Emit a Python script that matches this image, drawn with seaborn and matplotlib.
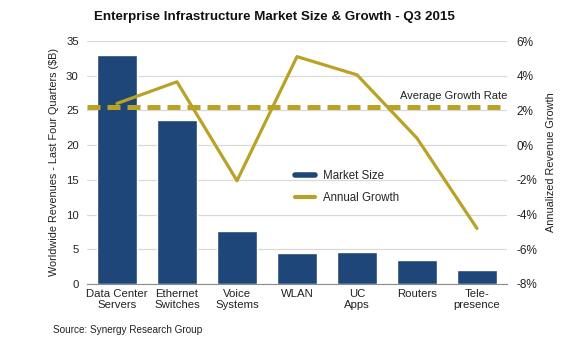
import matplotlib as mpl
mpl.use('Agg')
import matplotlib.pyplot as plt
from matplotlib.lines import Line2D
import pandas as pd
import seaborn as sns

# data
categories = ['Data Center\nServers', 'Ethernet\nSwitches', 'Voice\nSystems', 'WLAN',
              'UC\nApps', 'Routers', 'Tele-\npresence']
market_size = [33.0, 23.6, 7.6, 4.5, 4.6, 3.4, 2.0]       # $B
annual_growth = [2.4, 3.65, -2.05, 5.1, 4.05, 0.4, -4.8]  # %
avg_growth = 2.2

navy = '#1F4678'
gold = '#B9A226'

sns.set_style('white')
plt.rcParams['font.family'] = ['Liberation Sans', 'DejaVu Sans']

df = pd.DataFrame({'category': categories, 'size': market_size, 'growth': annual_growth})

fig = plt.figure(figsize=(5.74, 3.58), dpi=100)
ax = fig.add_axes([87 / 574, 1 - 284 / 358, 420 / 574, 243 / 358])

sns.barplot(data=df, x='category', y='size', color=navy, width=0.66,
            saturation=1, ax=ax, zorder=2)
ax.set_ylim(0, 35)
ax.set_yticks(range(0, 36, 5))
ax.set_xlim(-0.5, 6.5)
ax.grid(axis='y', color='#D9D9D9', linewidth=0.9, zorder=0)
ax.set_axisbelow(True)
for sp in ['top', 'left', 'right']:
    ax.spines[sp].set_visible(False)
ax.spines['bottom'].set_color('#8C8C8C')
ax.tick_params(axis='both', length=0, labelsize=8.2, colors='#222222')
ax.tick_params(axis='y', pad=6)
ax.set_xlabel('')
ax.set_ylabel('Worldwide Revenues - Last Four Quarters ($B)', fontsize=7.8, color='#222222', labelpad=5)

ax2 = ax.twinx()
sns.lineplot(data=df, x='category', y='growth', sort=False, color=gold, linewidth=2.3, ax=ax2)
ax2.axhline(avg_growth, color=gold, linewidth=3.6, dashes=(2.6, 1.4))
ax2.set_ylim(-8, 6)
ax2.set_yticks(range(-8, 7, 2))
ax2.set_yticklabels([f'{v}%' for v in range(-8, 7, 2)])
ax2.set_xlim(-0.5, 6.5)
for sp in ax2.spines.values():
    sp.set_visible(False)
ax2.tick_params(axis='y', length=0, labelsize=8.5, colors='#222222', pad=7)
ax2.set_ylabel('Annualized Revenue Growth', fontsize=7.8, color='#222222', labelpad=6)
ax2.text(6.5, avg_growth + 0.35, 'Average Growth Rate', ha='right', va='bottom', fontsize=8, color='#222222')

handles = [Line2D([], [], color=navy, linewidth=4), Line2D([], [], color=gold, linewidth=3)]
fig.legend(handles, ['Market Size', 'Annual Growth'], loc='upper left',
           bbox_to_anchor=(285 / 574, 1 - 160 / 358), frameon=False, fontsize=8.3,
           handlelength=1.7, handletextpad=0.7, labelspacing=0.85)

fig.text(274 / 574, 1 - 17 / 358, 'Enterprise Infrastructure Market Size & Growth - Q3 2015',
         ha='center', va='center', fontsize=9.6, fontweight='bold', color='#111111')
fig.text(53 / 574, 1 - 330 / 358, 'Source: Synergy Research Group', ha='left', va='center',
         fontsize=7.2, color='#222222')

fig.savefig('out.png', dpi=100, facecolor='white')
